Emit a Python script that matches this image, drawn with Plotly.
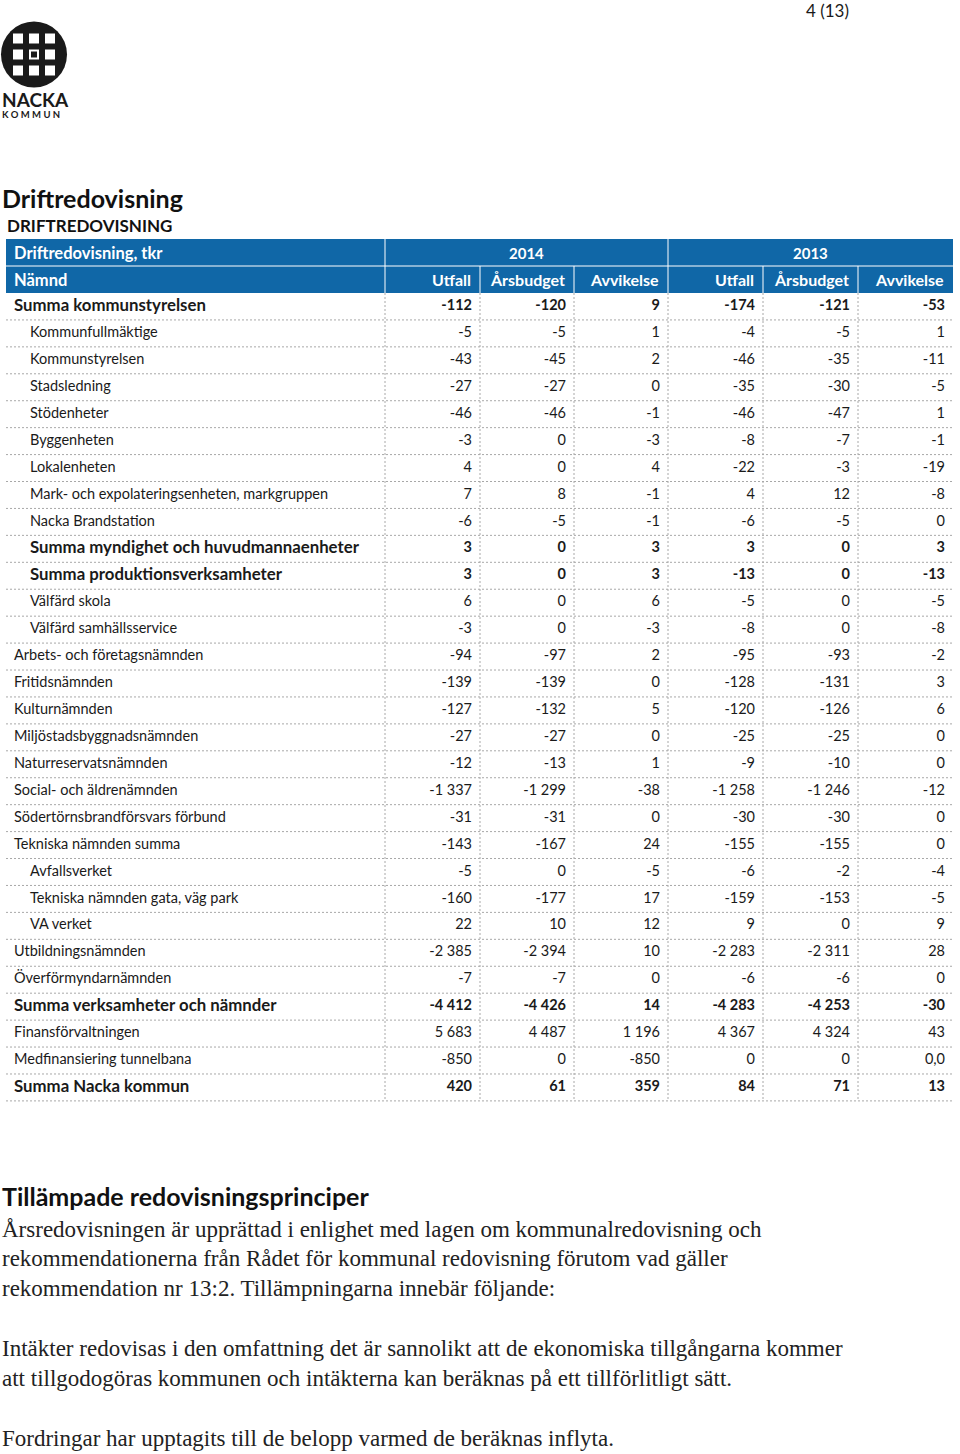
import plotly.graph_objects as go

# --- data -------------------------------------------------------------
row_labels = [
    "Summa kommunstyrelsen", "Kommunfullmäktige", "Kommunstyrelsen", "Stadsledning",
    "Stödenheter", "Byggenheten", "Lokalenheten",
    "Mark- och expolateringsenheten, markgruppen", "Nacka Brandstation",
    "Summa myndighet och huvudmannaenheter", "Summa produktionsverksamheter",
    "Välfärd skola", "Välfärd samhällsservice", "Arbets- och företagsnämnden",
    "Fritidsnämnden", "Kulturnämnden", "Miljöstadsbyggnadsnämnden",
    "Naturreservatsnämnden", "Social- och äldrenämnden",
    "Södertörnsbrandförsvars förbund", "Tekniska nämnden summa", "Avfallsverket",
    "Tekniska nämnden gata, väg park", "VA verket", "Utbildningsnämnden",
    "Överförmyndarnämnden", "Summa verksamheter och nämnder", "Finansförvaltningen",
    "Medfinansiering tunnelbana", "Summa Nacka kommun",
]
# sum = summarad, sub = underrad, subsum = summa på undernivå, main = nämnd
row_kind = [
    "sum", "sub", "sub", "sub", "sub", "sub", "sub", "sub", "sub",
    "subsum", "subsum", "sub", "sub", "main", "main", "main", "main",
    "main", "main", "main", "main", "sub", "sub", "sub", "main",
    "main", "sum", "main", "main", "sum",
]
utfall_2014 = [-112, -5, -43, -27, -46, -3, 4, 7, -6, 3, 3, 6, -3, -94, -139, -127, -27,
               -12, -1337, -31, -143, -5, -160, 22, -2385, -7, -4412, 5683, -850, 420]
budget_2014 = [-120, -5, -45, -27, -46, 0, 0, 8, -5, 0, 0, 0, 0, -97, -139, -132, -27,
               -13, -1299, -31, -167, 0, -177, 10, -2394, -7, -4426, 4487, 0, 61]
avvik_2014 = [9, 1, 2, 0, -1, -3, 4, -1, -1, 3, 3, 6, -3, 2, 0, 5, 0,
              1, -38, 0, 24, -5, 17, 12, 10, 0, 14, 1196, -850, 359]
utfall_2013 = [-174, -4, -46, -35, -46, -8, -22, 4, -6, 3, -13, -5, -8, -95, -128, -120, -25,
               -9, -1258, -30, -155, -6, -159, 9, -2283, -6, -4283, 4367, 0, 84]
budget_2013 = [-121, -5, -35, -30, -47, -7, -3, 12, -5, 0, 0, 0, 0, -93, -131, -126, -25,
               -10, -1246, -30, -155, -2, -153, 0, -2311, -6, -4253, 4324, 0, 71]
avvik_2013 = [-53, 1, -11, -5, 1, -1, -19, -8, 0, 3, -13, -5, -8, -2, 3, 6, 0,
              0, -12, 0, 0, -4, -5, 9, 28, 0, -30, 43, 0.0, 13]

years = ["2014", "2013"]
sub_headers = ["Utfall", "Årsbudget", "Avvikelse", "Utfall", "Årsbudget", "Avvikelse"]

principle_lines = [
    "Årsredovisningen är upprättad i enlighet med lagen om kommunalredovisning och",
    "rekommendationerna från Rådet för kommunal redovisning förutom vad gäller",
    "rekommendation nr 13:2. Tillämpningarna innebär följande:",
    "",
    "Intäkter redovisas i den omfattning det är sannolikt att de ekonomiska tillgångarna kommer",
    "att tillgodogöras kommunen och intäkterna kan beräknas på ett tillförlitligt sätt.",
    "",
    "Fordringar har upptagits till de belopp varmed de beräknas inflyta.",
]

# --- layout constants -------------------------------------------------
BLUE = "#1067a7"
GRID = "#a8a8a8"
SANS = "Lato, 'Open Sans', sans-serif"
SERIF = "'Liberation Serif', 'DejaVu Serif', serif"
COL_EDGES = [6, 385, 480, 574, 668, 763, 858, 953]
TABLE_TOP = 239
HEAD_H = 27
ROW_H = 26.93
BODY_TOP = TABLE_TOP + 2 * HEAD_H
PAD = 8


def fmt(v):
    if isinstance(v, float):
        return f"{v:.1f}".replace(".", ",")
    s = f"{abs(v):,}".replace(",", " ")
    return ("-" if v < 0 else "") + s


def row_mid(i):
    return BODY_TOP + (i + 0.5) * ROW_H


fig = go.Figure()

# dotted grid lines
gx, gy = [], []
for i in range(len(row_labels)):
    y = BODY_TOP + (i + 1) * ROW_H
    gx += [COL_EDGES[0], COL_EDGES[-1], None]
    gy += [y, y, None]
for x in COL_EDGES[1:-1]:
    gx += [x, x, None]
    gy += [BODY_TOP, BODY_TOP + len(row_labels) * ROW_H, None]
fig.add_trace(go.Scatter(x=gx, y=gy, mode="lines", hoverinfo="skip",
                         line=dict(color=GRID, width=1, dash="2px,2px")))

# label column (bold labels are set a bit larger, like the wide bold face in the source)
bold_kinds = {"sum", "subsum"}
indent_kinds = {"sub", "subsum"}
for is_bold in (False, True):
    idx = [i for i, k in enumerate(row_kind) if (k in bold_kinds) == is_bold]
    fig.add_trace(go.Scatter(
        x=[COL_EDGES[0] + (24 if row_kind[i] in indent_kinds else 8) for i in idx],
        y=[row_mid(i) for i in idx],
        text=[f"<b>{row_labels[i]}</b>" if is_bold else row_labels[i] for i in idx],
        mode="text", textposition="middle right", hoverinfo="skip",
        textfont=dict(family=SANS, size=16.8 if is_bold else 14.5, color="#1a1a1a"),
    ))

# value columns
value_cols = [utfall_2014, budget_2014, avvik_2014, utfall_2013, budget_2013, avvik_2013]
for c, vals in enumerate(value_cols):
    fig.add_trace(go.Scatter(
        x=[COL_EDGES[c + 2] - PAD] * len(vals),
        y=[row_mid(i) for i in range(len(vals))],
        text=[f"<b>{fmt(v)}</b>" if k in bold_kinds else fmt(v) for v, k in zip(vals, row_kind)],
        mode="text", textposition="middle left", hoverinfo="skip",
        textfont=dict(family=SANS, size=14.5, color="#1a1a1a"),
    ))

shapes = [
    dict(type="rect", x0=COL_EDGES[0], x1=COL_EDGES[-1], y0=TABLE_TOP, y1=BODY_TOP,
         fillcolor=BLUE, line_width=0, layer="below"),
    dict(type="line", x0=COL_EDGES[0], x1=COL_EDGES[-1], y0=TABLE_TOP + HEAD_H,
         y1=TABLE_TOP + HEAD_H, line=dict(color="white", width=1)),
]
for x in COL_EDGES[1:-1]:
    top = TABLE_TOP if x in (COL_EDGES[1], COL_EDGES[4]) else TABLE_TOP + HEAD_H
    shapes.append(dict(type="line", x0=x, x1=x, y0=top, y1=BODY_TOP,
                       line=dict(color="white", width=1)))

# logo
LX, LY, LR = 34, 54.5, 33
shapes.append(dict(type="circle", x0=LX - LR, x1=LX + LR, y0=LY - LR, y1=LY + LR,
                   fillcolor="#1a1a1a", line_width=0))
cell, bar = 10, 6
start = -(3 * cell + 2 * bar) / 2
for r in range(3):
    for c in range(3):
        x0 = LX + start + c * (cell + bar)
        y0 = LY + start + r * (cell + bar)
        shapes.append(dict(type="rect", x0=x0, x1=x0 + cell, y0=y0, y1=y0 + cell,
                           fillcolor="white", line_width=0))
shapes.append(dict(type="rect", x0=LX - 3, x1=LX + 3, y0=LY - 3, y1=LY + 3,
                   fillcolor="#1a1a1a", line_width=0))

annotations = []


def txt(x, y, s, size, family=SANS, color="#111111", anchor="left", bold=False):
    annotations.append(dict(
        x=x, y=y, xref="x", yref="y", text=f"<b>{s}</b>" if bold else s,
        showarrow=False, xanchor=anchor, yanchor="middle",
        font=dict(family=family, size=size, color=color)))


# header texts
txt(COL_EDGES[0] + 6, TABLE_TOP + HEAD_H / 2, "Driftredovisning, tkr", 16.5, color="white", bold=True)
txt(COL_EDGES[0] + 6, TABLE_TOP + 1.5 * HEAD_H, "Nämnd", 16.5, color="white", bold=True)
for k, yr in enumerate(years):
    txt((COL_EDGES[1 + 3 * k] + COL_EDGES[4 + 3 * k]) / 2, TABLE_TOP + HEAD_H / 2, yr, 15,
        color="white", anchor="center", bold=True)
for c, h in enumerate(sub_headers):
    txt(COL_EDGES[c + 2] - PAD + 1, TABLE_TOP + 1.5 * HEAD_H, h, 16, color="white",
        anchor="right", bold=True)

# page texts
txt(0, 99, "NACKA", 19, color="#1a1a1a", bold=True)
txt(0, 114, "K O M M U N", 9.5, color="#1a1a1a", bold=True)
txt(851, 10, "4 (13)", 17, color="#1a1a1a", anchor="right")
txt(0, 198, "Driftredovisning", 25, bold=True)
txt(5, 225, "DRIFTREDOVISNING", 17, bold=True)
txt(0, 1196, "Tillämpade redovisningsprinciper", 25, bold=True)
for i, line in enumerate(principle_lines):
    if line:
        txt(0, 1229 + i * 29.9, line, 23, family=SERIF, color="#222222")

fig.update_layout(
    width=960, height=1454,
    margin=dict(l=0, r=0, t=0, b=0),
    paper_bgcolor="white", plot_bgcolor="white",
    showlegend=False,
    xaxis=dict(range=[0, 960], visible=False, fixedrange=True),
    yaxis=dict(range=[1454, 0], visible=False, fixedrange=True),
    shapes=shapes, annotations=annotations,
)

# the page itself should add no margin around the figure
fig.write_html("out.html", config={"displayModeBar": False},
               post_script="document.body.style.margin = '0';")
